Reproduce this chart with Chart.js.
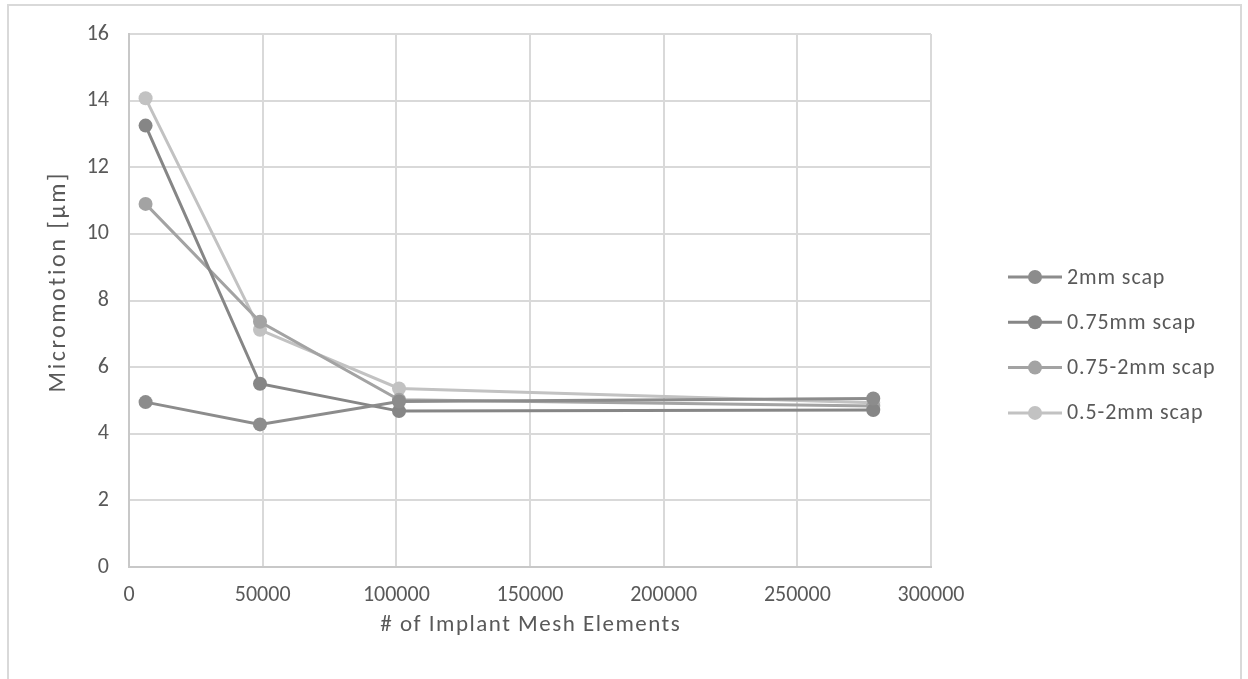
<!DOCTYPE html>
<html>
<head>
<meta charset="utf-8">
<script src="https://cdn.jsdelivr.net/npm/chart.js@4/dist/chart.umd.min.js"></script>
<style>
  html, body { margin: 0; padding: 0; background: #fff; }
  #wrap { width: 1248px; height: 679px; position: relative; }
</style>
</head>
<body>
<div id="wrap"><canvas id="chart"></canvas></div>
<script>
'use strict';

// mesh sizes (x) shared by every series
const meshElements = [6200, 49000, 101000, 278400];

const seriesNames = ['2mm scap', '0.75mm scap', '0.75-2mm scap', '0.5-2mm scap'];
const scap2mm = [4.95, 4.28, 4.97, 5.06];
const scap075mm = [13.25, 5.5, 4.68, 4.71];
const scap075to2mm = [10.9, 7.36, 5.02, 4.83];
const scap05to2mm = [14.07, 7.12, 5.36, 4.93];

const xTitle = '# of Implant Mesh Elements';
const yTitle = 'Micromotion [µm]';

const seriesColors = ['#8c8c8c', '#868686', '#a3a3a3', '#c2c2c2'];

const FONT = 'Calibri, Carlito, Lato, sans-serif';
const TEXT = '#595959';

const toPoints = vals => vals.map((v, i) => ({ x: meshElements[i], y: v }));

const datasets = [scap2mm, scap075mm, scap075to2mm, scap05to2mm].map((vals, i) => ({
    label: seriesNames[i],
    data: toPoints(vals),
    borderColor: seriesColors[i],
    backgroundColor: seriesColors[i],
    borderWidth: 3,
    pointRadius: 7,
    pointHoverRadius: 7,
    pointBorderWidth: 0,
    tension: 0
}));

// helper: text with the slightly loose tracking the Excel export has
const spacedText = (ctx, txt, x, y, size, spacing, rot) => {
    ctx.save();
    ctx.font = size + 'px ' + FONT;
    ctx.fillStyle = TEXT;
    ctx.letterSpacing = spacing + 'px';
    ctx.textBaseline = 'middle';
    ctx.textAlign = 'center';
    ctx.translate(x, y);
    if (rot) ctx.rotate(rot);
    ctx.fillText(txt, spacing / 2, 0);
    ctx.restore();
};

// axis titles + legend on the right, drawn by hand so they sit where Excel put them
const extras = {
    id: 'extras',
    afterDraw(chart) {
        const ctx = chart.ctx;
        const area = chart.chartArea;
        spacedText(ctx, xTitle, (area.left + area.right) / 2, 625, 23, 1.5, 0);
        spacedText(ctx, yTitle, 59, 283, 24, 2.6, -Math.PI / 2);

        ctx.save();
        chart.data.datasets.forEach((ds, i) => {
            const y = 277 + i * 45.3;
            ctx.strokeStyle = ds.borderColor;
            ctx.lineWidth = 3;
            ctx.beginPath();
            ctx.moveTo(1008, y);
            ctx.lineTo(1062, y);
            ctx.stroke();
            ctx.fillStyle = ds.backgroundColor;
            ctx.beginPath();
            ctx.arc(1035, y, 7, 0, Math.PI * 2);
            ctx.fill();
            ctx.fillStyle = TEXT;
            ctx.font = '22px ' + FONT;
            ctx.letterSpacing = '0.9px';
            ctx.textBaseline = 'middle';
            ctx.textAlign = 'left';
            ctx.fillText(ds.label, 1067, y + 1);
        });
        // outer chart border
        ctx.letterSpacing = '0px';
        ctx.strokeStyle = '#d9d9d9';
        ctx.lineWidth = 2;
        ctx.strokeRect(8, 5, 1233, 700);
        ctx.restore();
    }
};

const ctx = document.getElementById('chart').getContext('2d');
const myChart = new Chart(ctx, {
    type: 'line',
    data: { datasets: datasets },
    plugins: [extras],
    options: {
        responsive: true,
        maintainAspectRatio: false,
        animation: false,
        layout: { padding: { top: 34, right: 317, left: 0, bottom: 0 } },
        plugins: {
            legend: { display: false },
            tooltip: { enabled: false }
        },
        scales: {
            x: {
                type: 'linear',
                min: 0,
                max: 300000,
                afterFit: scale => { scale.height = 112; },
                ticks: {
                    stepSize: 50000,
                    padding: 15,
                    color: TEXT,
                    font: { family: FONT, size: 22 },
                    maxRotation: 0,
                    callback: v => String(v)
                },
                grid: { color: '#d9d9d9', lineWidth: 2, drawTicks: false },
                border: { color: '#c8c8c8', width: 2 }
            },
            y: {
                min: 0,
                max: 16,
                afterFit: scale => { scale.width = 129; },
                ticks: {
                    stepSize: 2,
                    padding: 20,
                    color: TEXT,
                    font: { family: FONT, size: 22 }
                },
                grid: { color: '#d9d9d9', lineWidth: 2, drawTicks: false },
                border: { color: '#c8c8c8', width: 2 }
            }
        }
    }
});
</script>
</body>
</html>
